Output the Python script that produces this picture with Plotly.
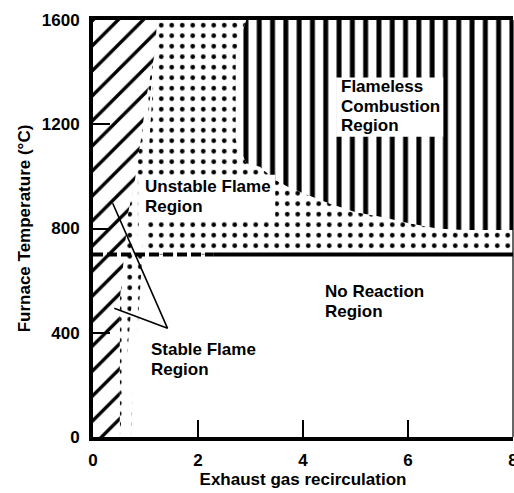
import plotly.graph_objects as go

# Axis tick positions
x_ticks = [0, 2, 4, 6, 8]
y_ticks = [0, 400, 800, 1200, 1600]
x_max, y_max = 8, 1600

# Right edge of the stable-flame (hatched) zone
stable_limit_x = [0.51, 0.51, 0.57, 0.67, 0.80, 0.88, 0.97, 1.05, 1.18, 1.22]
stable_limit_y = [0, 525, 640, 860, 987, 1102, 1229, 1344, 1475, 1600]

# Left / lower edge of the flameless combustion zone
flameless_x = [2.92, 2.72, 2.72, 2.92, 3.18, 3.47, 3.71, 3.98, 4.48, 4.99, 5.50, 6.00, 6.55, 7.05, 8.00]
flameless_y = [1600, 1480, 1140, 1050, 1037, 987, 960, 937, 898, 863, 844, 821, 800, 794, 794]

# No-reaction threshold temperature and the unstable strip below it
ignition_temp = 700
strip_x = [0.85, 0.80, 0.72]
strip_y = [700, 400, 0]

# Callout wedge pointing at the stable-flame zone
callout_x = [0.375, 1.42, 0.405]
callout_y = [897, 417, 494]

FONT = "Liberation Sans, Arial, sans-serif"

fig = go.Figure()

# Unstable flame region (dotted)
unstable_x = [stable_limit_x[-1]] + flameless_x + [x_max] + strip_x + stable_limit_x[::-1]
unstable_y = [y_max] + flameless_y + [ignition_temp] + strip_y + stable_limit_y[::-1]
fig.add_trace(go.Scatter(
    x=unstable_x, y=unstable_y, mode="lines", fill="toself",
    line=dict(width=0, color="black"), fillcolor="white",
    fillpattern=dict(shape=".", size=10.5, solidity=0.16, fgcolor="black",
                     bgcolor="white", fillmode="replace"),
    hoverinfo="skip"))

# Stable flame region (diagonal hatch)
stable_x = [0] + stable_limit_x + [0]
stable_y = [0] + stable_limit_y + [y_max]
fig.add_trace(go.Scatter(
    x=stable_x, y=stable_y, mode="lines", fill="toself",
    line=dict(width=0, color="black"), fillcolor="white",
    fillpattern=dict(shape="/", size=17.7, solidity=0.19, fgcolor="black",
                     bgcolor="white", fillmode="replace"),
    hoverinfo="skip"))

# Flameless combustion region (vertical stripes)
fl_x = flameless_x + [x_max]
fl_y = flameless_y + [y_max]
fig.add_trace(go.Scatter(
    x=fl_x, y=fl_y, mode="lines", fill="toself",
    line=dict(width=0, color="black"), fillcolor="white",
    fillpattern=dict(shape="|", size=13.3, solidity=0.37, fgcolor="black",
                     bgcolor="white", fillmode="replace"),
    hoverinfo="skip"))

# Threshold line: dashed at the left, solid further right
fig.add_trace(go.Scatter(x=[0, 2.3], y=[ignition_temp, ignition_temp], mode="lines",
                         line=dict(color="black", width=4, dash="10px,4px"), hoverinfo="skip"))
fig.add_trace(go.Scatter(x=[2.3, x_max], y=[ignition_temp, ignition_temp], mode="lines",
                         line=dict(color="black", width=4), hoverinfo="skip"))

# Callout wedge
fig.add_trace(go.Scatter(x=callout_x, y=callout_y, mode="lines",
                         line=dict(color="black", width=1.6), hoverinfo="skip"))

# White label boxes
shapes = [
    dict(type="rect", xref="x", yref="y", x0=4.63, x1=6.67, y0=1152, y1=1379,
         fillcolor="white", line=dict(width=0), layer="above"),
    dict(type="rect", xref="x", yref="y", x0=0.86, x1=3.47, y0=837, y1=1006,
         fillcolor="white", line=dict(width=0), layer="above"),
    # thin right frame edge
    dict(type="line", xref="paper", yref="paper", x0=1, x1=1, y0=0, y1=1,
         line=dict(color="black", width=1.2), layer="above"),
]

labels = [
    ("Flameless", 4.69, 1345), ("Combustion", 4.69, 1270), ("Region", 4.69, 1194),
    ("Unstable Flame", 0.947, 961), ("Region", 0.947, 886),
    ("No Reaction", 4.387, 557), ("Region", 4.387, 483),
    ("Stable Flame", 1.072, 336), ("Region", 1.072, 260),
]
annotations = [
    dict(text=t, x=x, y=y, xref="x", yref="y", xanchor="left", yanchor="middle",
         showarrow=False, font=dict(family=FONT, size=17, color="black", weight="bold"))
    for t, x, y in labels
]

fig.update_layout(
    width=514, height=493,
    margin=dict(l=93, r=1, t=20, b=56, autoexpand=False),
    paper_bgcolor="white", plot_bgcolor="white",
    showlegend=False,
    font=dict(family=FONT, size=17, color="black", weight="bold"),
    shapes=shapes, annotations=annotations,
)
fig.update_xaxes(
    range=[0, x_max], tickvals=x_ticks, ticks="inside", ticklen=17, tickwidth=2,
    tickcolor="black", showline=True, linewidth=3.5, linecolor="black", mirror=True,
    showgrid=False, zeroline=False, layer="above traces", ticklabelstandoff=5,
    ticklabeloverflow="allow", automargin=False,
    title=dict(text="Exhaust gas recirculation", standoff=5,
               font=dict(family=FONT, size=17, color="black", weight="bold")),
)
fig.update_yaxes(
    range=[0, y_max], tickvals=y_ticks, ticks="inside", ticklen=17, tickwidth=2,
    tickcolor="black", showline=True, linewidth=4, linecolor="black", mirror=False,
    showgrid=False, zeroline=False, layer="above traces", ticklabelstandoff=6,
    automargin=False,
    title=dict(text="Furnace Temperature (°C)", standoff=8,
               font=dict(family=FONT, size=17, color="black", weight="bold")),
)

fig.write_html("out.html")
